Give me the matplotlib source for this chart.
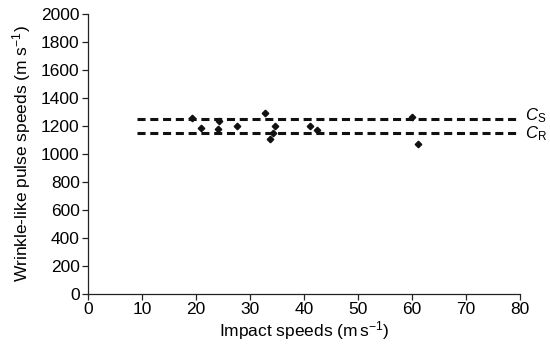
import matplotlib
matplotlib.use("Agg")
import matplotlib.pyplot as plt

plt.rcParams['font.family'] = ['Liberation Sans', 'DejaVu Sans']
plt.rcParams['mathtext.fontset'] = 'custom'
plt.rcParams['mathtext.rm'] = 'Liberation Sans'
plt.rcParams['mathtext.it'] = 'Liberation Sans:italic'
plt.rcParams['mathtext.bf'] = 'Liberation Sans:bold'
plt.rcParams['lines.scale_dashes'] = False

impact = [19.2, 21.0, 24.3, 24.0, 27.7, 32.8, 34.6, 34.3, 33.7, 41.1, 42.5, 60.1, 61.1]
pulse = [1259, 1188, 1238, 1178, 1202, 1290, 1200, 1150, 1105, 1202, 1171, 1267, 1071]

cs_value = 1250
cr_value = 1150
line_x = [9, 80]

xticks = [0, 10, 20, 30, 40, 50, 60, 70, 80]
yticks = [0, 200, 400, 600, 800, 1000, 1200, 1400, 1600, 1800, 2000]

fig = plt.figure(figsize=(5.5, 3.5), dpi=100)
ax = fig.add_axes([0.16, 0.16, 0.785, 0.80])

dash = (0, (5.8, 3.4))
ax.plot(line_x, [cs_value, cs_value], color='#111111', lw=2.2, linestyle=dash, zorder=2)
ax.plot(line_x, [cr_value, cr_value], color='#111111', lw=2.2, linestyle=dash, zorder=2)
ax.plot(impact, pulse, linestyle='none', marker='D', markersize=3.3, color='#111111', zorder=3)

ax.text(80.9, cs_value - 8, r'$\mathit{C}_{\mathrm{S}}$', fontsize=12, va='baseline', ha='left')
ax.text(80.9, cr_value - 36, r'$\mathit{C}_{\mathrm{R}}$', fontsize=12, va='baseline', ha='left')

ax.set_xlim(0, 80)
ax.set_ylim(0, 2000)
ax.set_xticks(xticks)
ax.set_yticks(yticks)
ax.tick_params(direction='out', length=4, width=0.9, labelsize=12.5, pad=2, color='#222222')
for s in ['top', 'right']:
    ax.spines[s].set_visible(False)
for s in ['left', 'bottom']:
    ax.spines[s].set_linewidth(0.9)
    ax.spines[s].set_color('#222222')

ax.set_xlabel(r'Impact speeds (m$\,$s$^{-1}$)', fontsize=12.5, labelpad=1)
ax.set_ylabel(r'Wrinkle-like pulse speeds (m s$^{-1}$)', fontsize=12.5, labelpad=6)

fig.savefig('out.png', dpi=100)
